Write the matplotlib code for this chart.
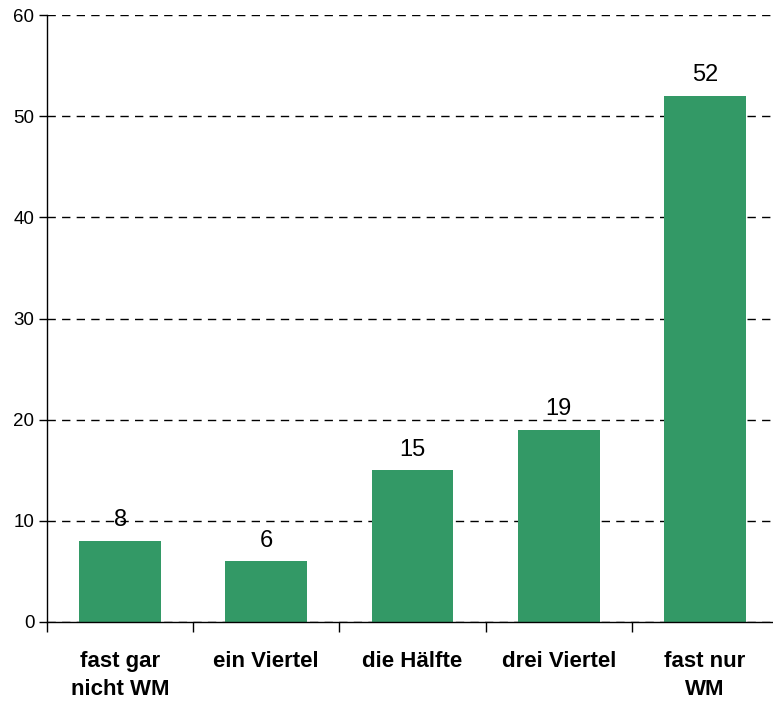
import numpy as np
import matplotlib.pyplot as plt
from matplotlib.ticker import FixedLocator

categories = ['fast gar\nnicht WM', 'ein Viertel', 'die Hälfte', 'drei Viertel', 'fast nur\nWM']
values = [8, 6, 15, 19, 52]

plt.rcParams['font.family'] = ['Liberation Sans', 'DejaVu Sans']

fig = plt.figure(figsize=(7.73, 7.03), dpi=100)
ax = fig.add_axes([47 / 773, 81 / 703, 731 / 773, 607 / 703])

x = np.arange(len(categories))
bars = ax.bar(x, values, width=0.56, color='#339966', zorder=3)

for b, v in zip(bars, values):
    ax.annotate(str(v), (b.get_x() + b.get_width() / 2, v), xytext=(0, 7),
                textcoords='offset points', ha='center', va='bottom', fontsize=17)

ax.set_xlim(-0.5, len(categories) - 0.5)
ax.set_ylim(0, 60)
ax.set_yticks(range(0, 61, 10))
ax.tick_params(axis='y', labelsize=13.5, length=6, width=1, pad=3)
ax.yaxis.grid(True, color='black', linestyle=(0, (6, 4.5)), linewidth=1, zorder=0)

ax.set_xticks(x)
ax.set_xticklabels(categories, fontsize=16, fontweight='bold', linespacing=1.45)
ax.tick_params(axis='x', length=0, pad=21)
ax.xaxis.set_minor_locator(FixedLocator(np.arange(-0.5, len(categories), 1)))
ax.tick_params(axis='x', which='minor', length=7, width=1, direction='out')

for s in ['top', 'right']:
    ax.spines[s].set_visible(False)
for s in ['left', 'bottom']:
    ax.spines[s].set_linewidth(1)
    ax.spines[s].set_zorder(4)

fig.savefig('out.png', dpi=100)
